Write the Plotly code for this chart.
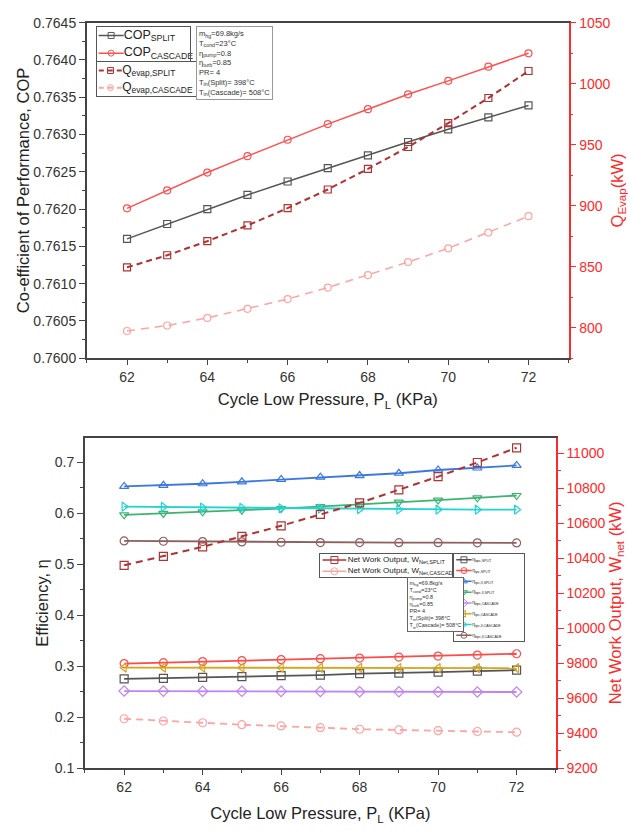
import plotly.graph_objects as go

# ---------------- data ----------------
P_L = [62, 63, 64, 65, 66, 67, 68, 69, 70, 71, 72]

cop_split = [0.76160, 0.76180, 0.76200, 0.76219, 0.76237, 0.76255, 0.76272, 0.76290, 0.76307, 0.76323, 0.76339]
cop_cascade = [0.76201, 0.76225, 0.76249, 0.76271, 0.76293, 0.76314, 0.76334, 0.76354, 0.76372, 0.76391, 0.76409]
q_evap_split = [849.5, 859.4, 870.9, 883.8, 898.0, 913.3, 930.2, 948.1, 967.7, 988.3, 1010.4]
q_evap_cascade = [797.3, 801.8, 808.0, 815.5, 823.5, 832.9, 843.1, 853.8, 865.1, 878.0, 891.4]

eta_bpc_split = [0.2750, 0.2763, 0.2782, 0.2795, 0.2814, 0.2827, 0.2853, 0.2865, 0.2885, 0.2904, 0.2923]
eta_tpc_split = [0.3051, 0.3070, 0.3090, 0.3110, 0.3129, 0.3148, 0.3160, 0.3180, 0.3199, 0.3218, 0.3244]
eta_tpc_II_split = [0.6525, 0.6545, 0.6577, 0.6615, 0.6660, 0.6705, 0.6737, 0.6782, 0.6846, 0.6885, 0.6936]
eta_bpc_II_split = [0.5968, 0.5994, 0.6026, 0.6058, 0.6090, 0.6128, 0.6173, 0.6218, 0.6256, 0.6301, 0.6346]
eta_bpc_cascade = [0.2513, 0.2512, 0.2510, 0.2508, 0.2506, 0.2504, 0.2500, 0.2498, 0.2497, 0.2495, 0.2494]
eta_tpc_cascade = [0.2974, 0.2974, 0.2973, 0.2971, 0.2970, 0.2968, 0.2966, 0.2965, 0.2963, 0.2962, 0.2961]
eta_tpc_II_cascade = [0.6128, 0.6122, 0.6110, 0.6103, 0.6096, 0.6090, 0.6077, 0.6072, 0.6070, 0.6069, 0.6068]
eta_bpc_II_cascade = [0.5455, 0.5449, 0.5443, 0.5436, 0.5430, 0.5423, 0.5423, 0.5422, 0.5421, 0.5418, 0.5417]

w_net_split = [10360, 10411, 10466, 10526, 10586, 10651, 10717, 10792, 10867, 10948, 11032]
w_net_cascade = [9483, 9470, 9460, 9449, 9442, 9432, 9423, 9419, 9415, 9410, 9406]

top_names_cop = ["COP<sub>SPLIT</sub>", "COP<sub>CASCADE</sub>"]
top_names_q = ["Q<sub>evap,SPLIT</sub>", "Q<sub>evap,CASCADE</sub>"]
bot_names_w = ["Net Work Output, W<sub>Net,SPLIT</sub>", "Net Work Output, W<sub>Net,CASCADE</sub>"]
bot_names_eta = ["η<sub>bpc,SPLIT</sub>", "η<sub>tpc,SPLIT</sub>", "η<sub>tpc,II,SPLIT</sub>", "η<sub>bpc,II,SPLIT</sub>",
                 "η<sub>bpc,CASCADE</sub>", "η<sub>tpc,CASCADE</sub>", "η<sub>tpc,II,CASCADE</sub>", "η<sub>bpc,II,CASCADE</sub>"]
params_text = ("m<sub>hg</sub>=69.8kg/s<br>T<sub>cond</sub>=23°C<br>η<sub>pump</sub>=0.8<br>η<sub>turb</sub>=0.85<br>"
               "PR= 4<br>T<sub>in</sub>(Split)= 398°C<br>T<sub>in</sub>(Cascade)= 508°C")

# ---------------- styles ----------------
FONT = "Arial, Liberation Sans, sans-serif"
AX = "#444444"
RED = "#ff2a2a"
C_GRAY = "#555555"
C_RED = "#ff5050"
C_DRED = "#b03232"
C_PINK = "#ffa3a3"
eta_colors = ["#555555", "#ff4a4a", "#3a78e0", "#3cb371", "#c084f0", "#d9a521", "#22d3d3", "#8f5f5f"]
eta_symbols = ["square-open", "circle-open", "triangle-up-open", "triangle-down-open",
               "diamond-open", "triangle-left-open", "triangle-right-open", "circle-open"]
eta_series = [eta_bpc_split, eta_tpc_split, eta_tpc_II_split, eta_bpc_II_split,
              eta_bpc_cascade, eta_tpc_cascade, eta_tpc_II_cascade, eta_bpc_II_cascade]

fig = go.Figure()


def line_trace(x, y, color, symbol, dash, xa, ya, width=1.5, msize=7):
    fig.add_trace(go.Scatter(
        x=x, y=y, mode="lines+markers", xaxis=xa, yaxis=ya, showlegend=False,
        line=dict(color=color, width=width, dash=dash),
        marker=dict(symbol=symbol, size=msize, color=color, line=dict(color=color, width=1.2)),
        hoverinfo="skip"))


# top plot
line_trace(P_L, cop_split, C_GRAY, "square-open", "solid", "x", "y")
line_trace(P_L, cop_cascade, C_RED, "circle-open", "solid", "x", "y")
line_trace(P_L, q_evap_split, C_DRED, "square-open", "6px,4px", "x", "y2", width=2)
line_trace(P_L, q_evap_cascade, C_PINK, "circle-open", "8px,6px", "x", "y2")

# bottom plot
for ser, col, sym in zip(eta_series, eta_colors, eta_symbols):
    line_trace(P_L, ser, col, sym, "solid", "x2", "y3", width=1.8, msize=8)
line_trace(P_L, w_net_split, C_DRED, "square-open", "7px,5px", "x2", "y4", width=2, msize=8)
line_trace(P_L, w_net_cascade, C_PINK, "circle-open", "7px,5px", "x2", "y4", width=1.8, msize=8)


# ---------------- manual legend boxes (inset axes) ----------------
def legend_box(idx_x, idx_y, dom_x, dom_y, names, colors, symbols, dashes, fsize, lx0, lx1, mx, tx, msize, lw):
    xa = "x%d" % idx_x
    ya = "y%d" % idx_y
    n = len(names)
    for i, (nm, c, s, d) in enumerate(zip(names, colors, symbols, dashes)):
        yv = n - 0.5 - i
        fig.add_trace(go.Scatter(x=[lx0, lx1], y=[yv, yv], mode="lines", xaxis=xa, yaxis=ya,
                                 line=dict(color=c, width=lw, dash=d), showlegend=False, hoverinfo="skip"))
        fig.add_trace(go.Scatter(x=[mx], y=[yv], mode="markers", xaxis=xa, yaxis=ya,
                                 marker=dict(symbol=s, size=msize, color=c, line=dict(color=c, width=1)),
                                 showlegend=False, hoverinfo="skip"))
        fig.add_trace(go.Scatter(x=[tx], y=[yv], mode="text", text=[nm], textposition="middle right",
                                 textfont=dict(size=fsize, color="#222222", family=FONT), xaxis=xa, yaxis=ya,
                                 showlegend=False, hoverinfo="skip", cliponaxis=False))
    common = dict(showgrid=False, zeroline=False, showticklabels=False, ticks="", showline=True,
                  mirror=True, linecolor="#555555", linewidth=1.2, fixedrange=True)
    fig.layout["xaxis%d" % idx_x] = dict(domain=dom_x, range=[0, 1], anchor="y%d" % idx_y, **common)
    fig.layout["yaxis%d" % idx_y] = dict(domain=dom_y, range=[0, n], anchor="x%d" % idx_x, **common)


W, H = 628.0, 840.0


def dx(a, b):
    return [a / W, b / W]


def dy(top, bot):
    return [1 - bot / H, 1 - top / H]


legend_box(3, 5, dx(98, 192), dy(19, 55), top_names_cop, [C_GRAY, C_RED],
           ["square-open", "circle-open"], ["solid", "solid"], 12.5, 0.02, 0.29, 0.155, 0.29, 6, 1.5)
legend_box(4, 6, dx(98, 201), dy(55, 90), top_names_q, [C_DRED, C_PINK],
           ["square-open", "circle-open"], ["5px,4px", "5px,4px"], 12, 0.02, 0.25, 0.135, 0.25, 6, 2)
legend_box(5, 7, dx(324, 458), dy(557, 580), bot_names_w, [C_DRED, C_PINK],
           ["square-open", "circle-open"], ["solid", "solid"], 8, 0.02, 0.2, 0.11, 0.21, 7, 1.5)
legend_box(6, 8, dx(460, 531), dy(557, 645), bot_names_eta, eta_colors, eta_symbols,
           ["solid"] * 8, 5, 0.03, 0.25, 0.14, 0.26, 6, 1.5)

# ---------------- main axes ----------------
tickfont = dict(size=14, color="#333333", family=FONT)
redtick = dict(size=14, color=RED, family=FONT)
titlefont = dict(size=16.5, color="#222222", family=FONT)

xcommon = dict(range=[61, 73], tick0=62, dtick=2, ticks="outside", ticklen=5, tickwidth=1.2, tickcolor=AX,
               minor=dict(ticks="outside", ticklen=3, dtick=1, tick0=61, tickcolor=AX),
               showline=True, linecolor=AX, linewidth=1.8, mirror=True, showgrid=False, zeroline=False,
               tickfont=tickfont)

fig.update_layout(
    width=628, height=840, margin=dict(l=0, r=0, t=0, b=0),
    paper_bgcolor="white", plot_bgcolor="white", font=dict(family=FONT),
    xaxis=dict(domain=dx(88, 576), anchor="y",
               title=dict(text="Cycle Low Pressure, P<sub>L</sub> (KPa)", font=titlefont, standoff=10), **xcommon),
    yaxis=dict(domain=dy(15, 357), anchor="x", range=[0.76, 0.7645], tick0=0.76, dtick=0.0005,
               tickformat=".4f", ticks="outside", ticklen=6, tickcolor=AX,
               minor=dict(ticks="outside", ticklen=3, dtick=0.00025, tickcolor=AX),
               showline=True, linecolor=AX, linewidth=1.8, showgrid=False, zeroline=False, tickfont=tickfont,
               title=dict(text="Co-efficient of Performance, COP", font=titlefont, standoff=0)),
    yaxis2=dict(overlaying="y", side="right", anchor="x", range=[775, 1050], tick0=800, dtick=50,
                ticks="outside", ticklen=6, tickcolor=RED,
                minor=dict(ticks="outside", ticklen=3, dtick=25, tickcolor=RED),
                showline=True, linecolor=RED, linewidth=1.5, showgrid=False, zeroline=False, tickfont=redtick,
                title=dict(text="Q<sub>Evap</sub>(kW)", font=dict(size=16.5, color=RED, family=FONT), standoff=6)),
    xaxis2=dict(domain=dx(86, 563), anchor="y3",
                title=dict(text="Cycle Low Pressure, P<sub>L</sub> (KPa)", font=titlefont, standoff=14), **xcommon),
    yaxis3=dict(domain=dy(438, 775), anchor="x2", range=[0.1, 0.748], tick0=0.1, dtick=0.1,
                ticks="outside", ticklen=6, tickcolor=AX,
                minor=dict(ticks="outside", ticklen=3, dtick=0.05, tickcolor=AX),
                showline=True, linecolor=AX, linewidth=1.8, showgrid=False, zeroline=False, tickfont=tickfont,
                title=dict(text="Efficiency, η", font=titlefont, standoff=2)),
    yaxis4=dict(overlaying="y3", side="right", anchor="x2", range=[9200, 11090], tick0=9200, dtick=200,
                tickformat="d",
                ticks="outside", ticklen=6, tickcolor=RED,
                minor=dict(ticks="outside", ticklen=3, dtick=100, tickcolor=RED),
                showline=True, linecolor=RED, linewidth=1.5, showgrid=False, zeroline=False, tickfont=redtick,
                title=dict(text="Net Work Output, W<sub>net</sub> (kW)",
                           font=dict(size=16.5, color=RED, family=FONT), standoff=2)),
)

fig.add_annotation(xref="paper", yref="paper", x=199 / W, y=1 - 18 / H, xanchor="left", yanchor="top",
                   text=params_text, showarrow=False, align="left",
                   font=dict(size=7.5, color="#333333", family=FONT),
                   bordercolor="#999999", borderwidth=1, borderpad=2, bgcolor="white")
fig.add_annotation(xref="paper", yref="paper", x=412 / W, y=1 - 580 / H, xanchor="left", yanchor="top",
                   text=params_text, showarrow=False, align="left",
                   font=dict(size=5.5, color="#333333", family=FONT),
                   bordercolor="#666666", borderwidth=1, borderpad=1.5, bgcolor="white")

fig.write_html("out.html")
